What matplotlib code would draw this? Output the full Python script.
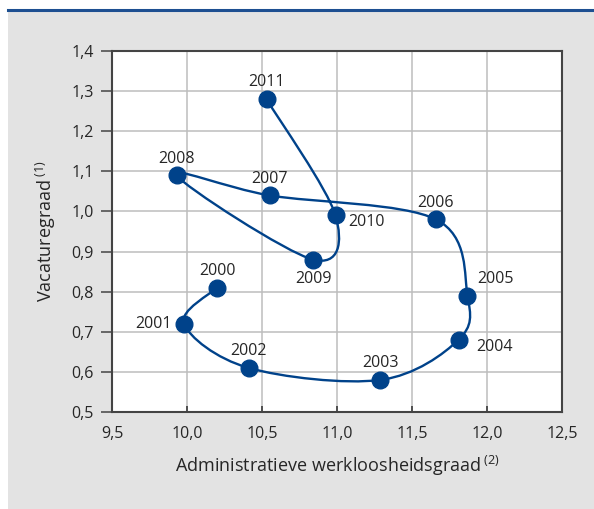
import matplotlib
matplotlib.use("Agg")
import matplotlib.pyplot as plt
import numpy as np
from matplotlib.path import Path
from matplotlib.patches import PathPatch, Rectangle

# Data
years = ["2000", "2001", "2002", "2003", "2004", "2005",
         "2006", "2007", "2008", "2009", "2010", "2011"]
werkloosheid = [10.20, 9.98, 10.41, 11.29, 11.81, 11.87,
                11.66, 10.55, 9.93, 10.84, 10.99, 10.53]
vacatures = [0.81, 0.72, 0.61, 0.58, 0.68, 0.79,
             0.98, 1.04, 1.09, 0.88, 0.99, 1.28]

# label offsets in points (dx, dy)
label_pos = {
    "2000": (0, 12), "2001": (-22, 0),
    "2002": (0, 12), "2003": (0, 12),
    "2004": (26, -5), "2005": (20, 12),
    "2006": (0, 12), "2007": (0, 12),
    "2008": (0, 12), "2009": (0, -14),
    "2010": (22, -5), "2011": (0, 12),
}

plt.rcParams['font.family'] = ['Open Sans', 'DejaVu Sans']
plt.rcParams['mathtext.fontset'] = 'custom'
plt.rcParams['mathtext.rm'] = 'Open Sans'

blue = '#00428a'
txt = '#262626'

fig = plt.figure(figsize=(5.94, 5.09), dpi=100)
fig.patch.set_facecolor('white')
fig.patches.append(Rectangle((8 / 594, 0), 1, 1 - 10 / 509, transform=fig.transFigure,
                             facecolor='#e3e3e3', edgecolor='none', zorder=-10))
fig.lines.append(plt.Line2D([8 / 594, 1], [1 - 10 / 509, 1 - 10 / 509], transform=fig.transFigure,
                            color='#1d4f91', linewidth=2.2, zorder=-5))

ax = fig.add_axes([112 / 594, 1 - 412 / 509, 450 / 594, 361 / 509])
ax.set_facecolor('white')
ax.set_xlim(9.5, 12.5)
ax.set_ylim(0.5, 1.4)
xt = np.arange(9.5, 12.51, 0.5)
yt = np.arange(0.5, 1.41, 0.1)
ax.set_xticks(xt)
ax.set_yticks(yt)
ax.set_xticklabels([f"{v:.1f}".replace('.', ',') for v in xt], fontsize=11.5, color=txt)
ax.set_yticklabels([f"{v:.1f}".replace('.', ',') for v in yt], fontsize=11.5, color=txt)
ax.grid(True, color='#bdbdbd', linewidth=1.1)
ax.set_axisbelow(True)
for s in ax.spines.values():
    s.set_color('#444444')
    s.set_linewidth(1.5)
ax.tick_params(axis='x', direction='in', length=4, width=1.3, color='#444444', pad=10)
ax.tick_params(axis='y', direction='out', length=8, width=1.1, color='#444444', pad=5)

# smooth line through the points (Catmull-Rom as cubic Bezier)
pts = np.column_stack([werkloosheid, vacatures])
n = len(pts)
verts = [pts[0]]
codes = [Path.MOVETO]
for i in range(n - 1):
    p0 = pts[i - 1] if i > 0 else pts[i]
    p1, p2 = pts[i], pts[i + 1]
    p3 = pts[i + 2] if i + 2 < n else pts[i + 1]
    verts += [p1 + (p2 - p0) / 6, p2 - (p3 - p1) / 6, p2]
    codes += [Path.CURVE4] * 3
ax.add_patch(PathPatch(Path(verts, codes), facecolor='none', edgecolor=blue,
                       linewidth=1.7, zorder=3))
ax.plot(werkloosheid, vacatures, 'o', color=blue, markersize=12, zorder=4)

for yr, x, y in zip(years, werkloosheid, vacatures):
    dx, dy = label_pos[yr]
    ax.annotate(yr, (x, y), xytext=(dx, dy), textcoords='offset points',
                ha='center', va='center', fontsize=11.5, color=txt, zorder=5)

ax.set_xlabel(r"Administratieve werkloosheidsgraad$\,^{\mathrm{(2)}}$", fontsize=13,
              color=txt, labelpad=9)
ax.set_ylabel(r"Vacaturegraad$\,^{\mathrm{(1)}}$", fontsize=13, color=txt, labelpad=10)

fig.savefig('out.png', dpi=100)
